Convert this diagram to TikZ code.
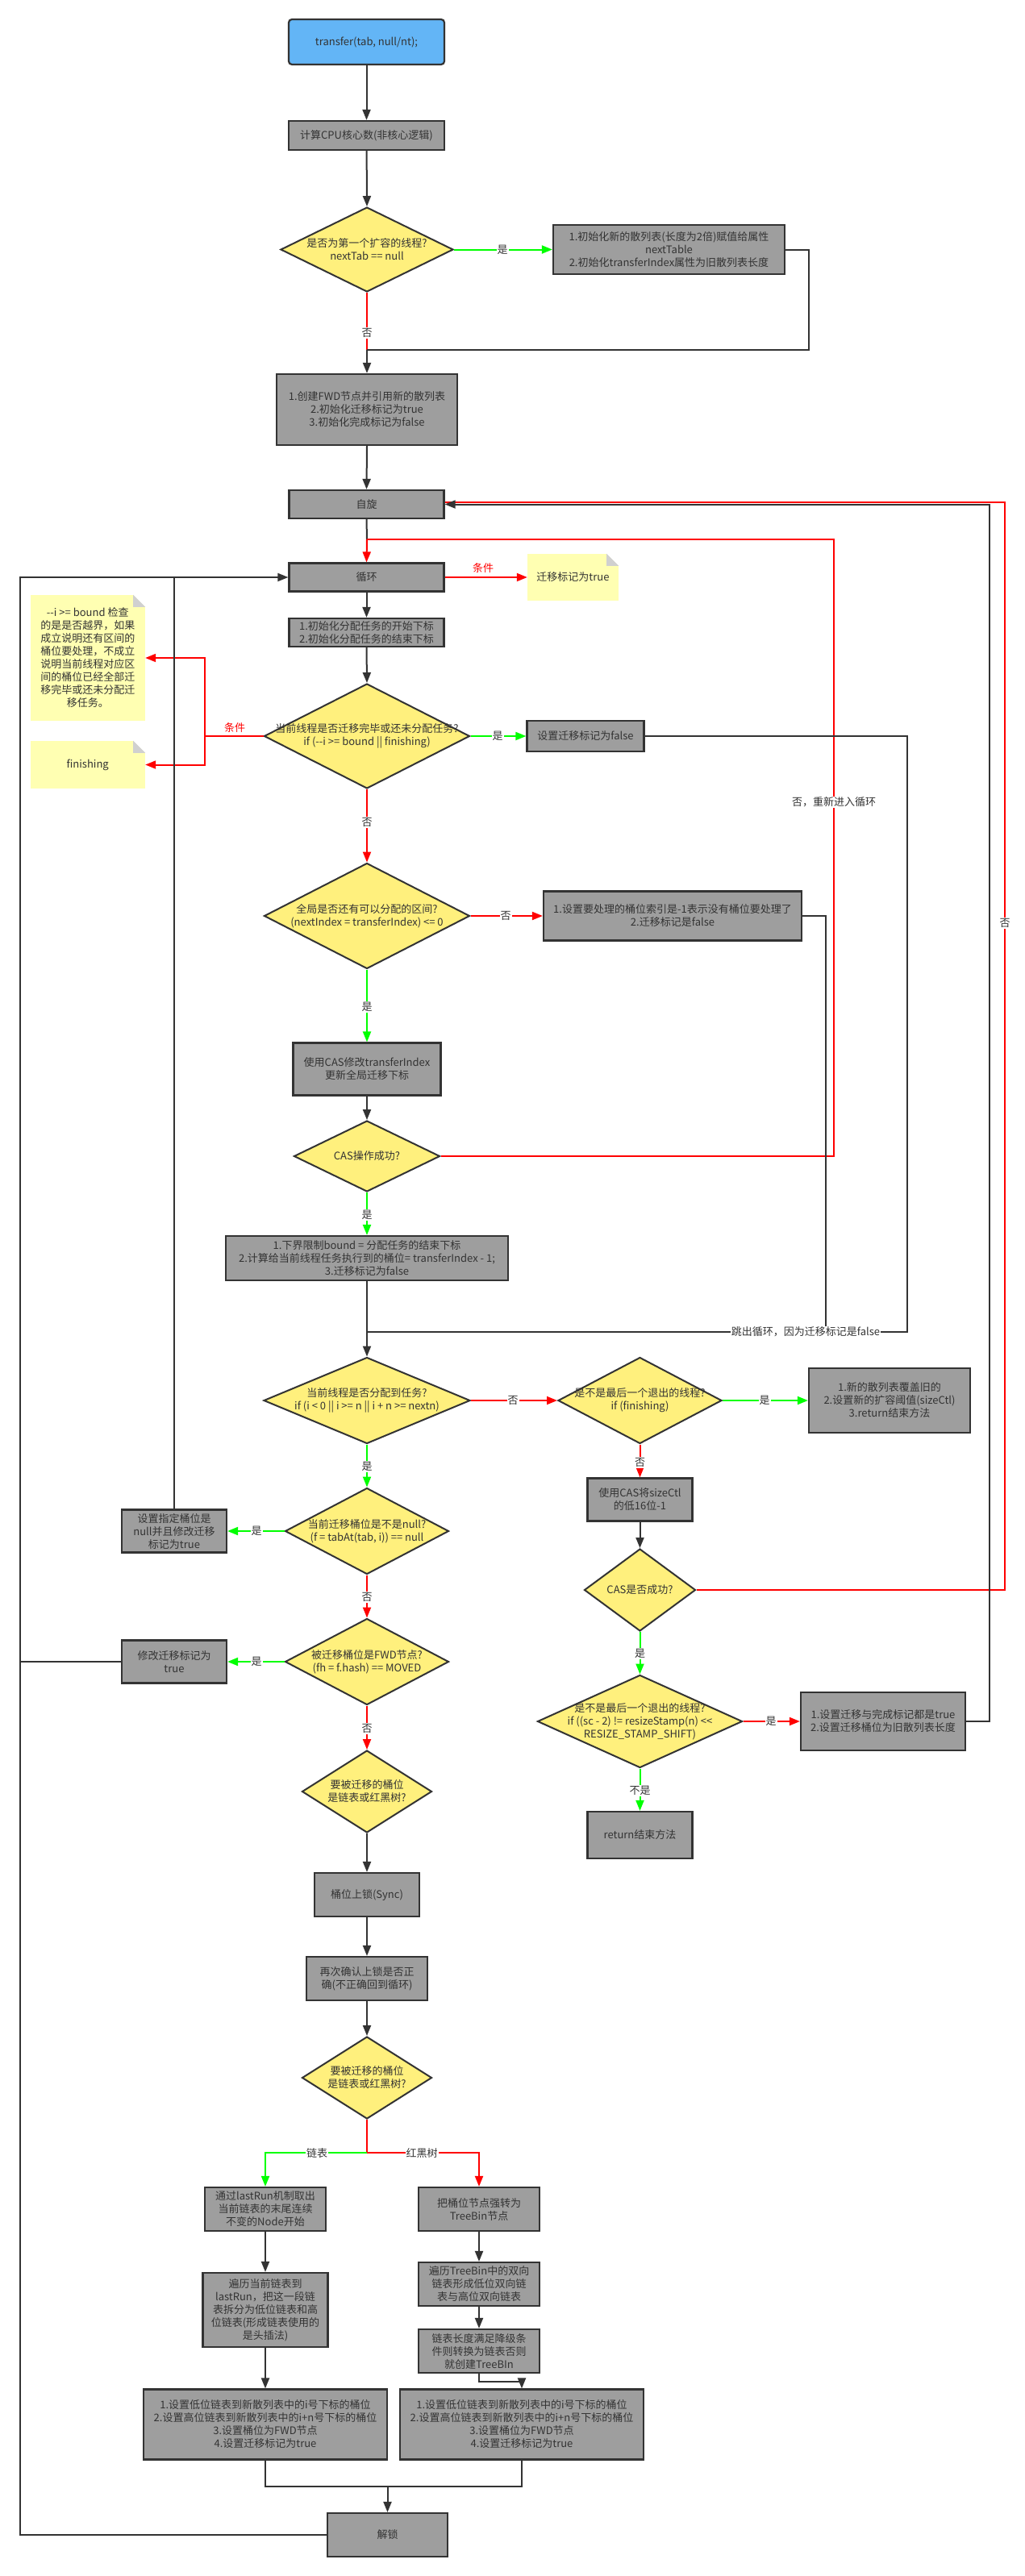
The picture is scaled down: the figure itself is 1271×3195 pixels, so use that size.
\documentclass[tikz,border=0pt]{standalone}
\usepackage{fontspec}
\newfontfamily\cjk{Noto Sans CJK SC}
\usetikzlibrary{arrows.meta,shapes.geometric}
\definecolor{dk}{RGB}{51,51,51}
\definecolor{boxg}{RGB}{158,158,158}
\definecolor{dyel}{RGB}{255,240,125}
\definecolor{sblue}{RGB}{99,181,246}
\definecolor{noteY}{RGB}{255,255,178}
\definecolor{foldG}{RGB}{208,208,208}
\definecolor{gr}{RGB}{0,255,0}
\definecolor{rd}{RGB}{255,0,0}
\definecolor{tx}{RGB}{51,51,51}
\begin{document}
\begin{tikzpicture}[x=1pt,y=-1pt,
  every node/.style={font=\cjk\fontsize{13}{16}\selectfont, text=tx, align=center},
  box/.style={draw=dk, line width=2.2pt, fill=boxg, rectangle, inner sep=0pt},
  startbox/.style={draw=dk, line width=2.2pt, fill=sblue, rectangle, rounded corners=4pt, inner sep=0pt},
  dec/.style={draw=dk, line width=2pt, fill=dyel, diamond, inner sep=0pt},
  note/.style={fill=noteY, rectangle, inner sep=0pt},
  ln/.style={line width=2pt},
  arr/.style={line width=2pt, -{Triangle[length=13pt,width=10pt]}},
  lbl/.style={fill=white, inner sep=1pt},
  rlbl/.style={text=rd, inner sep=1pt}
]
\fill[white] (0,0) rectangle (1271,3195);
\useasboundingbox (0,0) rectangle (1271,3195);

% ---------- nodes ----------
\node[startbox, minimum width=193pt, minimum height=56pt] (start) at (454.5,52) {transfer(tab, null/nt);};
\node[box, minimum width=193pt, minimum height=36pt] (cpu) at (454.5,168) {计算CPU核心数(非核心逻辑)};
\node[dec, minimum width=214pt, minimum height=105pt] (d1) at (455,309.5) {};
\node (d1t) at (d1) {是否为第一个扩容的线程?\\nextTab == null};
\node[box, minimum width=287pt, minimum height=61pt] (init) at (829.5,309.5) {1.初始化新的散列表(长度为2倍)赋值给属性\\nextTable\\2.初始化transferIndex属性为旧散列表长度};
\node[box, minimum width=224pt, minimum height=88pt] (fwd) at (455,508) {1.创建FWD节点并引用新的散列表\\2.初始化迁移标记为true\\3.初始化完成标记为false};
\node[box, minimum width=192pt, minimum height=35pt] (spin) at (454.5,625.5) {自旋};
\node[box, minimum width=192pt, minimum height=35pt] (loop) at (454.5,716) {循环};
\node[note, minimum width=113pt, minimum height=58pt] (ntrue) at (710.5,716) {迁移标记为true};
\node[box, minimum width=192pt, minimum height=35pt] (alloc) at (454.5,784.5) {1.初始化分配任务的开始下标\\2.初始化分配任务的结束下标};
\node[dec, minimum width=255pt, minimum height=130pt] (d2) at (455,913) {};
\node (d2t) at (d2) {当前线程是否迁移完毕或还未分配任务?\\if (-{}-i >= bound || finishing)};
\node[note, minimum width=142.5pt, minimum height=156pt] (note1) at (108.75,816) {-{}-i >= bound 检查\\的是是否越界，如果\\成立说明还有区间的\\桶位要处理，不成立\\说明当前线程对应区\\间的桶位已经全部迁\\移完毕或还未分配迁\\移任务。};
\node[note, minimum width=142.5pt, minimum height=59pt] (note2) at (108.75,948.5) {finishing};
\node[box, minimum width=145pt, minimum height=38pt] (sf) at (726,913) {设置迁移标记为false};
\node[dec, minimum width=255pt, minimum height=131pt] (d3) at (455,1136) {};
\node (d3t) at (d3) {全局是否还有可以分配的区间?\\(nextIndex = transferIndex) <= 0};
\node[box, minimum width=320pt, minimum height=61pt] (setidx) at (834,1136) {1.设置要处理的桶位索引是-1表示没有桶位要处理了\\2.迁移标记是false};
\node[box, minimum width=183pt, minimum height=65pt] (casmod) at (455,1326) {使用CAS修改transferIndex\\更新全局迁移下标};
\node[dec, minimum width=181pt, minimum height=88pt] (dcas) at (455,1434) {};
\node (dcast) at (dcas) {CAS操作成功?};
\node[box, minimum width=350pt, minimum height=55pt] (bound) at (455,1560.5) {1.下界限制bound = 分配任务的结束下标\\2.计算给当前线程任务执行到的桶位= transferIndex - 1;\\3.迁移标记为false};
\node[dec, minimum width=256pt, minimum height=107pt] (d4) at (455,1737) {};
\node (d4t) at (d4) {当前线程是否分配到任务?\\if (i < 0 || i >= n || i + n >= nextn)};
\node[dec, minimum width=203pt, minimum height=107pt] (d5) at (793.5,1737) {};
\node (d5t) at (d5) {是不是最后一个退出的线程?\\if (finishing)};
\node[box, minimum width=200pt, minimum height=80pt] (newtab) at (1103,1737) {1.新的散列表覆盖旧的\\2.设置新的扩容阈值(sizeCtl)\\3.return结束方法};
\node[box, minimum width=130pt, minimum height=53pt] (sizectl) at (793.5,1860) {使用CAS将sizeCtl\\的低16位-1};
\node[dec, minimum width=138pt, minimum height=102pt] (dcas2) at (793.5,1972) {};
\node (dcas2t) at (dcas2) {CAS是否成功?};
\node[dec, minimum width=254pt, minimum height=115pt] (d9) at (793.5,2135) {};
\node (d9t) at (d9) {是不是最后一个退出的线程?\\if ((sc - 2) != resizeStamp(n) <{}<\\RESIZE\_STAMP\_SHIFT)};
\node[box, minimum width=204pt, minimum height=72pt] (setdone) at (1095,2135) {1.设置迁移与完成标记都是true\\2.设置迁移桶位为旧散列表长度};
\node[box, minimum width=130pt, minimum height=58pt] (ret) at (793.5,2276) {return结束方法};
\node[dec, minimum width=203pt, minimum height=107pt] (d6) at (455,1899) {};
\node (d6t) at (d6) {当前迁移桶位是不是null?\\(f = tabAt(tab, i)) == null};
\node[box, minimum width=130pt, minimum height=53pt] (nullbox) at (216,1899) {设置指定桶位是\\null并且修改迁移\\标记为true};
\node[dec, minimum width=203pt, minimum height=107pt] (d8) at (455,2061) {};
\node (d8t) at (d8) {被迁移桶位是FWD节点?\\(fh = f.hash) == MOVED};
\node[box, minimum width=130pt, minimum height=53pt] (fwdbox) at (216,2061) {修改迁移标记为\\true};
\node[dec, minimum width=161pt, minimum height=102pt] (d10) at (455,2222) {};
\node (d10t) at (d10) {要被迁移的桶位\\是链表或红黑树?};
\node[box, minimum width=130pt, minimum height=54pt] (sync) at (455,2350) {桶位上锁(Sync)};
\node[box, minimum width=150pt, minimum height=54pt] (recheck) at (455,2454) {再次确认上锁是否正\\确(不正确回到循环)};
\node[dec, minimum width=161pt, minimum height=102pt] (d11) at (455,2577) {};
\node (d11t) at (d11) {要被迁移的桶位\\是链表或红黑树?};
\node[box, minimum width=150pt, minimum height=54pt] (l1) at (329,2740) {通过lastRun机制取出\\当前链表的末尾连续\\不变的Node开始};
\node[box, minimum width=155pt, minimum height=92pt] (l2) at (329,2865) {遍历当前链表到\\lastRun，把这一段链\\表拆分为低位链表和高\\位链表(形成链表使用的\\是头插法)};
\node[box, minimum width=150pt, minimum height=54pt] (r1) at (594,2740) {把桶位节点强转为\\TreeBin节点};
\node[box, minimum width=150pt, minimum height=54pt] (r2) at (594,2833) {遍历TreeBin中的双向\\链表形成低位双向链\\表与高位双向链表};
\node[box, minimum width=150pt, minimum height=54pt] (r3) at (594,2916) {链表长度满足降级条\\件则转换为链表否则\\就创建TreeBIn};
\node[box, minimum width=302pt, minimum height=87pt] (l4) at (329,3007) {1.设置低位链表到新散列表中的i号下标的桶位\\2.设置高位链表到新散列表中的i+n号下标的桶位\\3.设置桶位为FWD节点\\4.设置迁移标记为true};
\node[box, minimum width=302pt, minimum height=87pt] (r4) at (647,3007) {1.设置低位链表到新散列表中的i号下标的桶位\\2.设置高位链表到新散列表中的i+n号下标的桶位\\3.设置桶位为FWD节点\\4.设置迁移标记为true};
\node[box, minimum width=149pt, minimum height=54pt] (unlock) at (480.5,3144) {解锁};

% note folds
\foreach \n in {ntrue,note1,note2}{
  \fill[white] (\n.north east) -- ++(-15,0) -- ++(15,15) -- cycle;
  \fill[foldG] (\n.north east) ++(-15,0) -- ++(15,15) -- ++(-15,0) -- cycle;
}

% ---------- junction coordinates ----------
\coordinate (m1) at (455,434);
\coordinate (m2) at (455,669);
\coordinate (c2) at (253.6,913);
\coordinate (m3) at (455,1652);
\coordinate (m4) at (455,2670);
\coordinate (m5) at (480.5,3084);

% ---------- connectors ----------
\draw[arr,draw=dk] (start) -- (cpu);
\draw[arr,draw=dk] (cpu) -- (d1.north);
\draw[arr,draw=gr] (d1.east) -- (init.west);
\draw[ln,draw=rd] (d1.south) -- (m1);
\draw[ln,draw=dk] (init.east) -- ++(29,0) |- (m1);
\draw[arr,draw=dk] (m1) -- (fwd.north);
\draw[arr,draw=dk] (fwd.south) -- (spin.north);
\draw[ln,draw=dk] (spin.south) -- (m2);
\draw[arr,draw=rd] (m2) -- (loop.north);
\draw[arr,draw=rd] (loop.east) -- (ntrue.west);
\draw[arr,draw=dk] (loop.south) -- (alloc.north);
\draw[arr,draw=dk] (alloc.south) -- (d2.north);
\draw[arr,draw=gr] (d2.east) -- (sf.west);
\draw[ln,draw=rd] (d2.west) -- (c2);
\draw[arr,draw=rd] (c2) |- (note1.east);
\draw[arr,draw=rd] (c2) |- (note2.east);
\draw[arr,draw=rd] (d2.south) -- (d3.north);
\draw[arr,draw=rd] (d3.east) -- (setidx.west);
\draw[arr,draw=gr] (d3.south) -- (casmod.north);
\draw[arr,draw=dk] (casmod.south) -- (dcas.north);
\draw[arr,draw=gr] (dcas.south) -- (bound.north);
\draw[ln,draw=rd] (dcas.east) -- (1034,1434) -- (1034,669) -- (m2);
\draw[arr,draw=dk] (bound.south) -- (d4.north);
\draw[ln,draw=dk] (sf.east) -- (1125,913) -- (1125,1652) -- (m3);
\draw[ln,draw=dk] (setidx.east) -| (1024,1652);
\draw[arr,draw=rd] (d4.east) -- (d5.west);
\draw[arr,draw=gr] (d5.east) -- (newtab.west);
\draw[arr,draw=rd] (d5.south) -- (sizectl.north);
\draw[arr,draw=dk] (sizectl.south) -- (dcas2.north);
\draw[arr,draw=gr] (dcas2.south) -- (d9.north);
\draw[ln,draw=rd] (dcas2.east) -- (1246,1972) -- (1246,623) -- ([yshift=2.5pt]spin.east);
\draw[arr,draw=dk] (setdone.east) -- (1227,2135) |- (spin.east);
\draw[arr,draw=rd] (d9.east) -- (setdone.west);
\draw[arr,draw=gr] (d9.south) -- (ret.north);
\draw[arr,draw=gr] (d4.south) -- (d6.north);
\draw[arr,draw=gr] (d6.west) -- (nullbox.east);
\draw[arr,draw=rd] (d6.south) -- (d8.north);
\draw[arr,draw=gr] (d8.west) -- (fwdbox.east);
\draw[arr,draw=rd] (d8.south) -- (d10.north);
\draw[arr,draw=dk] (d10.south) -- (sync.north);
\draw[arr,draw=dk] (sync.south) -- (recheck.north);
\draw[arr,draw=dk] (recheck.south) -- (d11.north);
\draw[ln,draw=rd] (d11.south) -- (m4);
\draw[arr,draw=gr] (m4) -| (l1.north);
\draw[arr,draw=rd] (m4) -| (r1.north);
\draw[arr,draw=dk] (l1.south) -- (l2.north);
\draw[arr,draw=dk] (l2.south) -- (l4.north);
\draw[arr,draw=dk] (r1.south) -- (r2.north);
\draw[arr,draw=dk] (r2.south) -- (r3.north);
\draw[arr,draw=dk] (r3.south) -- ++(0,10) -| (r4.north);
\draw[ln,draw=dk] (l4.south) |- (m5);
\draw[ln,draw=dk] (r4.south) |- (m5);
\draw[arr,draw=dk] (m5) -- (unlock.north);
\draw[arr,draw=dk] (unlock.west) -- (25,3144) |- (loop.west);
\draw[ln,draw=dk] (nullbox.north) -- (216,716);
\draw[ln,draw=dk] (fwdbox.west) -- (25,2061);

% ---------- labels ----------
\node[lbl] (la1) at (623,310) {是};
\node[lbl] (la2) at (455,413) {否};
\node[rlbl] (la3) at (599,705) {条件};
\node[rlbl] (la4) at (291,903) {条件};
\node[lbl] (la5) at (617,913) {是};
\node[lbl] (la6) at (455,1020) {否};
\node[lbl] (la7) at (627,1136) {否};
\node[lbl] (la8) at (455,1249) {是};
\node[lbl] (la9) at (455,1507) {是};
\node[lbl] (la10) at (1034,995) {否，重新进入循环};
\node[lbl] (la11) at (999,1652) {跳出循环，因为迁移标记是false};
\node[lbl] (la12) at (636,1737) {否};
\node[lbl] (la13) at (948,1737) {是};
\node[lbl] (la14) at (793.5,1814) {否};
\node[lbl] (la15) at (793.5,2051) {是};
\node[lbl] (la16) at (956,2135) {是};
\node[lbl] (la17) at (793.5,2221) {不是};
\node[lbl] (la18) at (1246,1145) {否};
\node[lbl] (la19) at (455,1819) {是};
\node[lbl] (la20) at (318,1899) {是};
\node[lbl] (la21) at (455,1981) {否};
\node[lbl] (la22) at (318,2061) {是};
\node[lbl] (la23) at (455,2144) {否};
\node[lbl] (la24) at (393,2671) {链表};
\node[lbl] (la25) at (523,2671) {红黑树};
\end{tikzpicture}
\end{document}
